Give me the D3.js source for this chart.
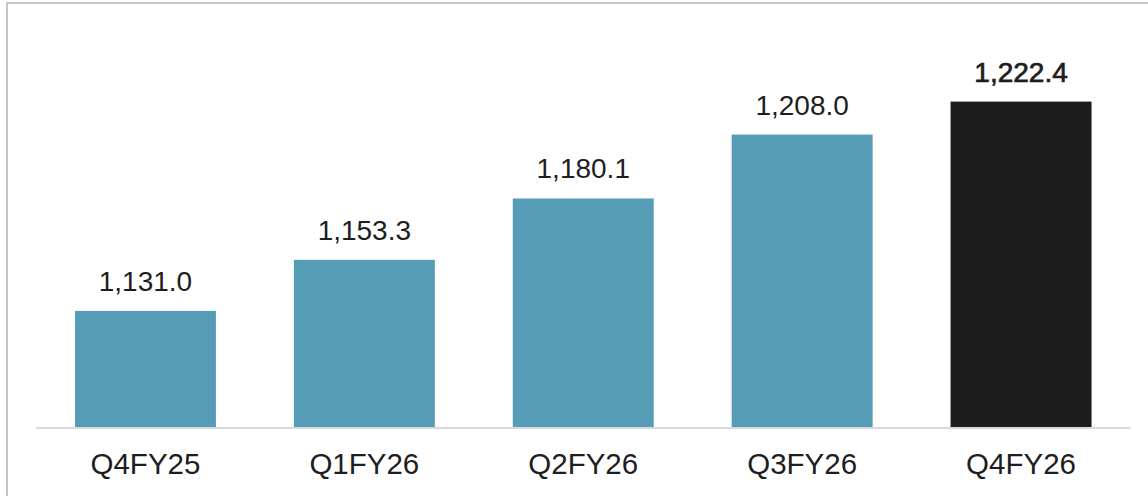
<!DOCTYPE html>
<html><head><meta charset="utf-8">
<script src="https://cdn.jsdelivr.net/npm/d3@7"></script>
<style>html,body{margin:0;padding:0;background:#fff;}svg{display:block;}</style>
</head><body>
<script>
const categories = ["Q4FY25","Q1FY26","Q2FY26","Q3FY26","Q4FY26"];
const values = [1131.0, 1153.3, 1180.1, 1208.0, 1222.4];
const labels = ["1,131.0","1,153.3","1,180.1","1,208.0","1,222.4"];
const highlight = [false,false,false,false,true];

const W = 1148, H = 496;
const svg = d3.select("body").append("svg").attr("width", W).attr("height", H);

svg.append("rect").attr("x",7).attr("y",3).attr("width",1300).attr("height",700)
  .attr("fill","none").attr("stroke","#c6c6c6").attr("stroke-width",2);

const x = d3.scaleBand().domain(categories).range([36,1130.5]).paddingInner(0.356).paddingOuter(0.178);
const y = d3.scaleLinear().domain([1080.3,1250]).range([427,38.4]);

const data = categories.map((c,i)=>({c, v:values[i], l:labels[i], h:highlight[i]}));

svg.selectAll("rect.bar").data(data).enter().append("rect").attr("class","bar")
  .attr("x", d=>x(d.c)).attr("width", x.bandwidth())
  .attr("y", d=>y(d.v)).attr("height", d=>y.range()[0]-y(d.v))
  .attr("fill", d=>d.h ? "#1c1c1c" : "#569cb7");

svg.append("line").attr("x1",36).attr("x2",1130.5).attr("y1",428).attr("y2",428)
  .attr("stroke","#d9d9d9").attr("stroke-width",2);

svg.selectAll("text.val").data(data).enter().append("text").attr("class","val")
  .attr("x", d=>x(d.c)+x.bandwidth()/2).attr("y", d=>y(d.v)-20)
  .attr("text-anchor","middle").attr("font-family","Liberation Sans, Arial, sans-serif")
  .attr("font-size",28)
  .attr("stroke", d=>d.h ? "#1c1c1c" : "none").attr("stroke-width", d=>d.h ? 0.7 : 0)
  .attr("fill","#1e1e1e").text(d=>d.l);

const xAxis = svg.append("g").attr("transform","translate(0,428)")
  .call(d3.axisBottom(x).tickSize(0).tickPadding(0));
xAxis.select(".domain").remove();
xAxis.selectAll("text").attr("dy",null).attr("y",46)
  .attr("font-family","Liberation Sans, Arial, sans-serif").attr("font-size",29.5).attr("fill","#1e1e1e");
</script>
</body></html>
